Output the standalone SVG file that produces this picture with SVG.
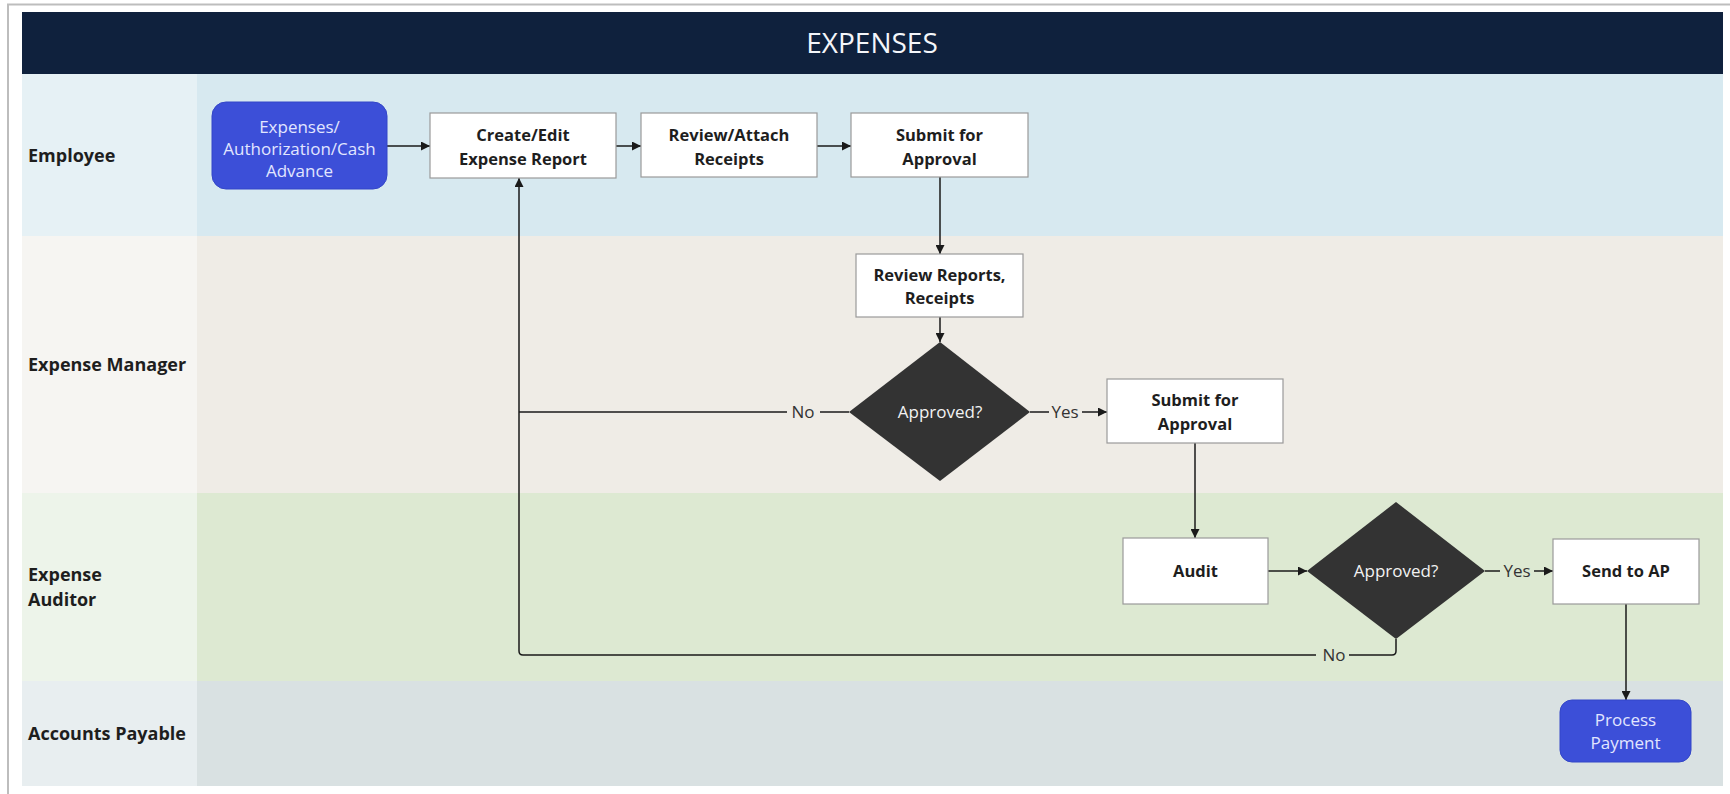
<svg xmlns="http://www.w3.org/2000/svg" width="1730" height="794" viewBox="0 0 1730 794">
  <style>
    .lane-label { font-family: "Open Sans", "Noto Sans", "Liberation Sans", sans-serif; font-size: 18px; font-weight: 700; fill: #1e1e1e; }
    .box { fill: #ffffff; stroke: #9a9a9a; stroke-width: 1.2; }
    .box-text { font-family: "Open Sans", "Noto Sans", "Liberation Sans", sans-serif; font-size: 16.5px; font-weight: 700; fill: #1e1e1e; text-anchor: middle; }
    .term { fill: #3c4fd8; stroke: #3346c8; stroke-width: 1; }
    .term-text { font-family: "Open Sans", "Noto Sans", "Liberation Sans", sans-serif; font-size: 17px; fill: #e2e6ff; text-anchor: middle; }
    .dec { fill: #333333; }
    .dec-text { font-family: "Open Sans", "Noto Sans", "Liberation Sans", sans-serif; font-size: 17px; fill: #f2f2f2; text-anchor: middle; }
    .edge { fill: none; stroke: #1a1a1a; stroke-width: 1.5; }
    .edge-label { font-family: "Open Sans", "Noto Sans", "Liberation Sans", sans-serif; font-size: 17px; fill: #333333; text-anchor: middle; }
  </style>
  <defs>
    <marker id="arrow" viewBox="0 0 10 10" refX="10" refY="5" markerWidth="10" markerHeight="9" markerUnits="userSpaceOnUse" orient="auto">
      <path d="M0,0 L10,5 L0,10 z" fill="#1a1a1a"/>
    </marker>
  </defs>

  <!-- page -->
  <rect x="0" y="0" width="1730" height="794" fill="#ffffff"/>
  <path d="M8,794 L8,4.5 L1730,4.5" fill="none" stroke="#bdbdbd" stroke-width="2"/>

  <!-- title bar -->
  <g id="title">
    <rect x="22" y="12" width="1701" height="62" fill="#0f213d"/>
    <text x="872" y="53" font-family="'Open Sans', 'Noto Sans', 'Liberation Sans', sans-serif" font-size="28" fill="#f4f6fa" text-anchor="middle">EXPENSES</text>
  </g>

  <!-- swimlanes -->
  <g id="lanes">
    <rect x="22" y="74" width="1701" height="162" fill="#d7e9f0"/>
    <rect x="22" y="74" width="175" height="162" fill="#e6f1f5"/>
    <rect x="22" y="236" width="1701" height="257" fill="#efece6"/>
    <rect x="22" y="236" width="175" height="257" fill="#f6f5f2"/>
    <rect x="22" y="493" width="1701" height="188" fill="#dde9d2"/>
    <rect x="22" y="493" width="175" height="188" fill="#edf4ea"/>
    <rect x="22" y="681" width="1701" height="105" fill="#d9e1e2"/>
    <rect x="22" y="681" width="175" height="105" fill="#e8eef0"/>
    <text class="lane-label" x="28" y="162">Employee</text>
    <text class="lane-label" x="28" y="371">Expense Manager</text>
    <text class="lane-label" x="28" y="581">Expense</text>
    <text class="lane-label" x="28" y="606">Auditor</text>
    <text class="lane-label" x="28" y="740">Accounts Payable</text>
  </g>

  <!-- connectors -->
  <g id="connectors">
    <line class="edge" x1="387" y1="146" x2="430" y2="146" marker-end="url(#arrow)"/>
    <line class="edge" x1="616" y1="146" x2="641" y2="146" marker-end="url(#arrow)"/>
    <line class="edge" x1="817" y1="146" x2="851" y2="146" marker-end="url(#arrow)"/>
    <line class="edge" x1="940" y1="177" x2="940" y2="254" marker-end="url(#arrow)"/>
    <line class="edge" x1="940" y1="317" x2="940" y2="342" marker-end="url(#arrow)"/>
    <!-- manager rejection back to the report -->
    <line class="edge" x1="849" y1="412" x2="820" y2="412"/>
    <text class="edge-label" x="803" y="418">No</text>
    <line class="edge" x1="787" y1="412" x2="519" y2="412"/>
    <!-- manager approval -->
    <line class="edge" x1="1030" y1="412" x2="1049" y2="412"/>
    <text class="edge-label" x="1065" y="418">Yes</text>
    <line class="edge" x1="1082" y1="412" x2="1107" y2="412" marker-end="url(#arrow)"/>
    <line class="edge" x1="1195" y1="443" x2="1195" y2="538" marker-end="url(#arrow)"/>
    <line class="edge" x1="1268" y1="571" x2="1307" y2="571" marker-end="url(#arrow)"/>
    <!-- auditor approval -->
    <line class="edge" x1="1485" y1="571" x2="1500" y2="571"/>
    <text class="edge-label" x="1517" y="577">Yes</text>
    <line class="edge" x1="1534" y1="571" x2="1553" y2="571" marker-end="url(#arrow)"/>
    <line class="edge" x1="1626" y1="604" x2="1626" y2="700" marker-end="url(#arrow)"/>
    <!-- auditor rejection back to the report -->
    <path class="edge" d="M1396,639 L1396,651 Q1396,655 1392,655 L1349,655"/>
    <text class="edge-label" x="1334" y="661">No</text>
    <path class="edge" d="M1316,655 L523,655 Q519,655 519,651 L519,178" marker-end="url(#arrow)"/>
  </g>

  <!-- nodes -->
  <g id="start">
    <rect class="term" x="212" y="102" width="175" height="87" rx="14"/>
    <text class="term-text" x="299.5" y="133">Expenses/</text>
    <text class="term-text" x="299.5" y="155">Authorization/Cash</text>
    <text class="term-text" x="299.5" y="177">Advance</text>
  </g>
  <g id="create-edit">
    <rect class="box" x="430" y="113" width="186" height="65"/>
    <text class="box-text" x="523" y="141">Create/Edit</text>
    <text class="box-text" x="523" y="165">Expense Report</text>
  </g>
  <g id="review-attach">
    <rect class="box" x="641" y="113" width="176" height="64"/>
    <text class="box-text" x="729" y="141">Review/Attach</text>
    <text class="box-text" x="729" y="165">Receipts</text>
  </g>
  <g id="submit-employee">
    <rect class="box" x="851" y="113" width="177" height="64"/>
    <text class="box-text" x="939.5" y="141">Submit for</text>
    <text class="box-text" x="939.5" y="165">Approval</text>
  </g>
  <g id="review-reports">
    <rect class="box" x="856" y="254" width="167" height="63"/>
    <text class="box-text" x="939.5" y="281">Review Reports,</text>
    <text class="box-text" x="939.5" y="304">Receipts</text>
  </g>
  <g id="approved-manager">
    <polygon class="dec" points="940,342 1030,412 940,481 849,412"/>
    <text class="dec-text" x="940" y="418">Approved?</text>
  </g>
  <g id="submit-manager">
    <rect class="box" x="1107" y="379" width="176" height="64"/>
    <text class="box-text" x="1195" y="406">Submit for</text>
    <text class="box-text" x="1195" y="430">Approval</text>
  </g>
  <g id="audit">
    <rect class="box" x="1123" y="538" width="145" height="66"/>
    <text class="box-text" x="1195.5" y="577">Audit</text>
  </g>
  <g id="approved-auditor">
    <polygon class="dec" points="1396,502 1485,571 1396,639 1307,571"/>
    <text class="dec-text" x="1396" y="577">Approved?</text>
  </g>
  <g id="send-to-ap">
    <rect class="box" x="1553" y="539" width="146" height="65"/>
    <text class="box-text" x="1626" y="577">Send to AP</text>
  </g>
  <g id="process-payment">
    <rect class="term" x="1560" y="700" width="131" height="62" rx="12"/>
    <text class="term-text" x="1625.5" y="726">Process</text>
    <text class="term-text" x="1625.5" y="749">Payment</text>
  </g>
</svg>
